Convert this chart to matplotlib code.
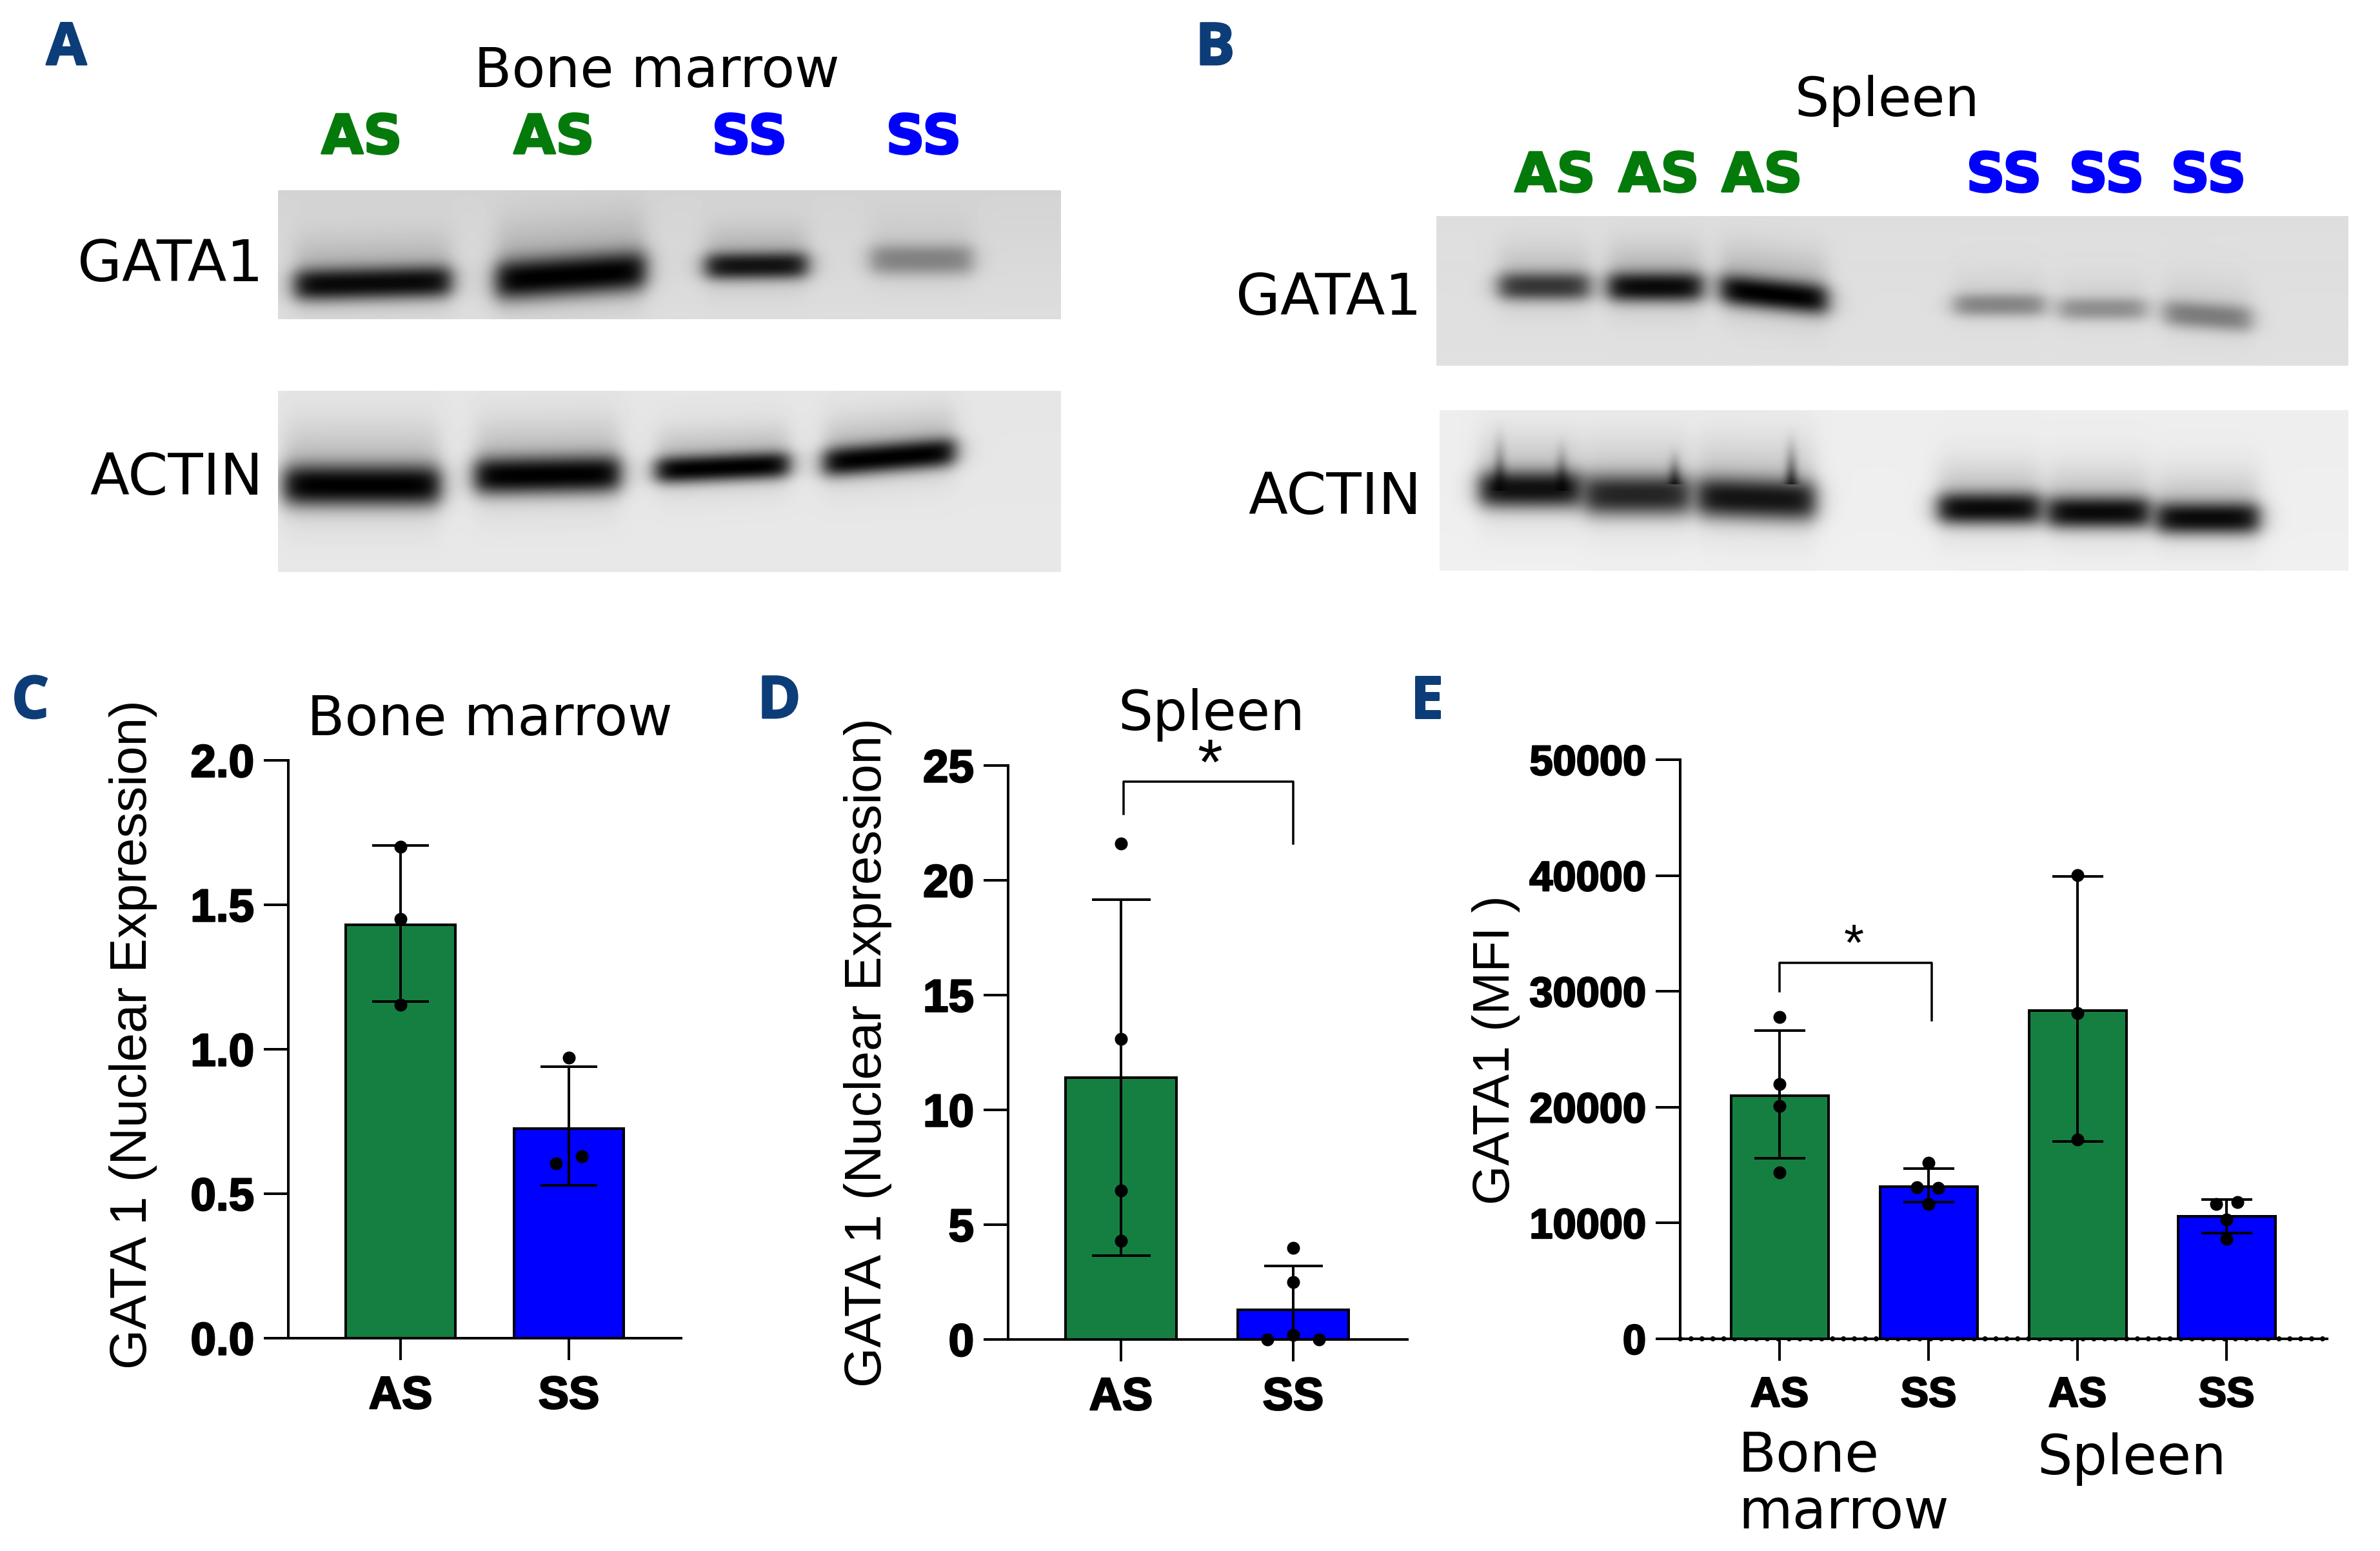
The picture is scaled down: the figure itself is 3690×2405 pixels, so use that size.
import numpy as np
import matplotlib
matplotlib.use('Agg')
import matplotlib.pyplot as plt
import matplotlib.patheffects as pe

W, H = 3691, 2405
DPI = 100
PT = 72 / DPI   # pixels -> points

GREEN = '#157f42'
BLUE = '#0000ff'
LABEL_GREEN = '#047a0a'
NAVY = '#0c3d78'

plt.rcParams['font.family'] = ['Liberation Sans', 'DejaVu Sans']

# bar charts
groups_2 = ['AS', 'SS']
groups_4 = ['AS', 'SS', 'AS', 'SS']

bm_means = [1.43, 0.725]
bm_err_low = [1.165, 0.53]
bm_err_high = [1.705, 0.94]
bm_pts_y = [[1.70, 1.45, 1.155], [0.97, 0.605, 0.63]]
bm_pts_dx = [[0, 0, 0], [0, -0.075, 0.075]]

sp_means = [11.4, 1.3]
sp_err_low = [3.65, 0.0]
sp_err_high = [19.15, 3.2]
sp_pts_y = [[21.6, 13.1, 6.5, 4.3], [4.0, 2.5, 0.2, 0.0, 0.0]]
sp_pts_dx = [[0, 0, 0, 0], [0, 0, 0, -0.15, 0.15]]

mfi_means = [21000, 13150, 28340, 10600]
mfi_err_low = [15590, 11790, 17030, 9140]
mfi_err_high = [26600, 14680, 39940, 12030]
mfi_pts_y = [[27770, 21990, 20110, 14390],
             [15200, 13090, 13040, 11650],
             [40040, 28100, 17180],
             [11650, 11790, 10300, 8610]]
mfi_pts_dx = [[0, 0, 0, 0],
              [0, -0.08, 0.065, 0],
              [0, 0, 0],
              [-0.07, 0.075, 0, 0]]

# blot bands: x start, x end, y at start, y at end, half height, darkness
a_gata = [(458, 698, 442, 436, 25, 0.95), (770, 999, 435, 419, 31, 1.0),
          (1095, 1250, 413, 411, 21, 0.9), (1350, 1507, 403, 403, 24, 0.36)]
a_actin = [(441, 681, 752, 752, 32, 1.0), (737, 960, 738, 734, 29, 1.0),
           (1018, 1222, 729, 720, 21, 1.0), (1278, 1479, 717, 700, 23, 1.0)]
b_gata = [(2325, 2463, 444, 444, 22, 0.72), (2494, 2638, 445, 445, 23, 0.95),
          (2669, 2831, 448, 465, 24, 1.0), (3030, 3169, 473, 473, 18, 0.36),
          (3193, 3326, 479, 479, 18, 0.32), (3356, 3489, 485, 495, 21, 0.4)]
b_actin = [(2295, 2451, 758, 758, 29, 0.92), (2457, 2620, 767, 767, 32, 0.82),
           (2632, 2813, 770, 776, 32, 0.9), (3006, 3163, 788, 788, 25, 0.95),
           (3175, 3332, 794, 794, 25, 0.95), (3344, 3501, 803, 803, 25, 0.95)]
# vertical smears above the actin bands: x, y top, y bottom
b_streaks = [(2325, 640, 760), (2421, 660, 760), (2596, 680, 750), (2777, 650, 750)]


def px_axes(x0, y0, x1, y1):
    return fig.add_axes([x0 / W, 1 - y1 / H, (x1 - x0) / W, (y1 - y0) / H])


def heavy(px):
    return [pe.withStroke(linewidth=px * PT, foreground='black')]


def ftext(x, y, s, size, **kw):
    kw.setdefault('ha', 'center')
    kw.setdefault('va', 'baseline')
    return fig.text(x / W, 1 - y / H, s, fontsize=size * PT, **kw)


def draw_blot(x0, y0, x1, y1, bg_top, bg_bottom, bands, streaks=()):
    xx, yy = np.meshgrid(np.arange(x0, x1), np.arange(y0, y1))
    keep = np.ones_like(xx, dtype=float)
    for xa, xb, ya, yb, hh, d in bands:
        yc = ya + (yb - ya) * (xx - xa) / (xb - xa)
        fx = 0.5 * (np.tanh((xx - xa) / 18) - np.tanh((xx - xb) / 18))
        core = np.exp(-np.abs((yy - yc) / hh) ** 2.4)
        halo = np.exp(-((yy - yc + hh * 0.7) / (hh * 2.2)) ** 2)
        keep *= 1 - d * fx * core
        keep *= 1 - 0.2 * d * fx * halo
    for sx, st, sb in streaks:
        fy = np.clip((yy - st) / (sb - st), 0, 1) ** 2
        fy[yy > sb] = 0
        keep *= 1 - 0.7 * fy * np.exp(-((xx - sx) / 10.0) ** 2)
    t = (yy - y0) / (y1 - y0)
    img = (bg_top + (bg_bottom - bg_top) * t) * keep
    ax = px_axes(x0, y0, x1, y1)
    ax.imshow(img, cmap='gray', vmin=0, vmax=1, aspect='auto', interpolation='bilinear')
    ax.axis('off')


def bar_panel(box, xlim, ymax, yticks, ylabels, means, low, high, pts_y, pts_dx,
              names, bar_w, cap_px, label_px):
    ax = px_axes(*box)
    xs = np.arange(len(means))
    cols = [GREEN if n == 'AS' else BLUE for n in names]
    ax.bar(xs, means, width=bar_w, color=cols, edgecolor='black', linewidth=4 * PT, zorder=2)
    means = np.array(means)
    ax.errorbar(xs, means, yerr=[means - np.array(low), np.array(high) - means], fmt='none',
                ecolor='black', elinewidth=4 * PT, capsize=cap_px / 2 * PT, capthick=4 * PT,
                zorder=3, clip_on=False)
    for i in xs:
        ax.scatter(i + np.array(pts_dx[i]), pts_y[i], s=(20 * PT) ** 2, color='black',
                   linewidth=0, zorder=4, clip_on=False)
    ax.set_xlim(*xlim)
    ax.set_ylim(0, ymax)
    ax.set_yticks(yticks)
    ax.set_yticklabels(ylabels, fontweight='bold', fontsize=label_px * PT)
    ax.set_xticks(xs)
    ax.set_xticklabels(names, fontweight='bold', fontsize=label_px * PT)
    for lab in ax.get_xticklabels() + ax.get_yticklabels():
        lab.set_path_effects(heavy(2.5))
    ax.tick_params(axis='y', length=38 * PT, width=4 * PT, pad=15 * PT)
    ax.tick_params(axis='x', length=34 * PT, width=4 * PT, pad=24 * PT)
    ax.spines['top'].set_visible(False)
    ax.spines['right'].set_visible(False)
    ax.spines['left'].set_linewidth(4 * PT)
    ax.spines['bottom'].set_linewidth(4 * PT)
    ax.patch.set_alpha(0)
    return ax


fig = plt.figure(figsize=(W / DPI, H / DPI), dpi=DPI, facecolor='white')

# panels A and B
draw_blot(431, 295, 1645, 495, 0.83, 0.87, a_gata)
draw_blot(431, 606, 1645, 887, 0.90, 0.91, a_actin)
draw_blot(2227, 335, 3641, 567, 0.87, 0.88, b_gata)
draw_blot(2232, 636, 3641, 885, 0.93, 0.94, b_actin, b_streaks)

dejavu = ['DejaVu Sans']

for x, s in zip([561, 859, 1162, 1432], ['AS', 'AS', 'SS', 'SS']):
    c = LABEL_GREEN if s == 'AS' else BLUE
    ftext(x, 238, s, 84, color=c, fontweight='bold', family=dejavu,
          path_effects=[pe.withStroke(linewidth=3 * PT, foreground=c)])
for x, s in zip([2411, 2572, 2732, 3107, 3266, 3424], ['AS', 'AS', 'AS', 'SS', 'SS', 'SS']):
    c = LABEL_GREEN if s == 'AS' else BLUE
    ftext(x, 297, s, 84, color=c, fontweight='bold', family=dejavu,
          path_effects=[pe.withStroke(linewidth=3 * PT, foreground=c)])

ftext(1018, 135, 'Bone marrow', 85, family=dejavu)
ftext(2926, 180, 'Spleen', 84, family=dejavu)
ftext(408, 436, 'GATA1', 89, ha='right', family=dejavu)
ftext(408, 767, 'ACTIN', 89, ha='right', family=dejavu)
ftext(2204, 488, 'GATA1', 89, ha='right', family=dejavu)
ftext(2204, 797, 'ACTIN', 89, ha='right', family=dejavu)

# panel letters
for (x, y), s in zip([(103, 100), (1884, 100), (47, 1113), (1208, 1113), (2212, 1113)], 'ABCDE'):
    ftext(x, y, s, 90, color=NAVY, fontweight='bold', family=['Open Sans'],
          path_effects=[pe.withStroke(linewidth=3 * PT, foreground=NAVY)])

# panel C
bar_panel((447, 1179, 1056, 2075), (-0.667, 1.667), 2.0, [0, 0.5, 1.0, 1.5, 2.0],
          ['0.0', '0.5', '1.0', '1.5', '2.0'], bm_means, bm_err_low, bm_err_high,
          bm_pts_y, bm_pts_dx, groups_2, 0.648, 88, 71)
ftext(759, 1140, 'Bone marrow', 85, family=dejavu)
ftext(207, 1604, 'GATA 1 (Nuclear Expression)', 80, rotation=90, va='center')

# panel D
ax_d = bar_panel((1563, 1187, 2182, 2077), (-0.655, 1.663), 25, [0, 5, 10, 15, 20, 25],
                 ['0', '5', '10', '15', '20', '25'], sp_means, sp_err_low, sp_err_high,
                 sp_pts_y, sp_pts_dx, groups_2, 0.644, 91, 71)
ax_d.plot([0.015, 0.015, 1.0, 1.0], [22.9, 24.3, 24.3, 21.6], color='black', lw=3.5 * PT,
          clip_on=False, zorder=3)
ftext(1878, 1132, 'Spleen', 85, family=dejavu)
ftext(1876, 1216, '*', 100)
ftext(1346, 1632, 'GATA 1 (Nuclear Expression)', 80, rotation=90, va='center')

# panel E
ax_e = bar_panel((2605, 1178, 3608, 2076), (-0.667, 3.675), 50000,
                 [0, 10000, 20000, 30000, 40000, 50000],
                 ['0', '10000', '20000', '30000', '40000', '50000'],
                 mfi_means, mfi_err_low, mfi_err_high, mfi_pts_y, mfi_pts_dx,
                 groups_4, 0.654, 79, 65)
ax_e.axhline(0, color='black', lw=8 * PT, ls=(0, (0.01, 2.1)), dash_capstyle='round',
             clip_on=False, zorder=1)
ax_e.plot([0, 0, 1.02, 1.02], [30030, 32440, 32440, 27530], color='black', lw=3.5 * PT,
          clip_on=False, zorder=3)
ftext(2874, 1489, '*', 80)
ftext(2320, 1628, 'GATA1 (MFI )', 79, rotation=90, va='center')
ftext(2695, 2282, 'Bone', 86, ha='left', family=dejavu)
ftext(2695, 2370, 'marrow', 86, ha='left', family=dejavu)
ftext(3158, 2286, 'Spleen', 86, ha='left', family=dejavu)

fig.savefig('out.png', dpi=DPI, facecolor='white')
